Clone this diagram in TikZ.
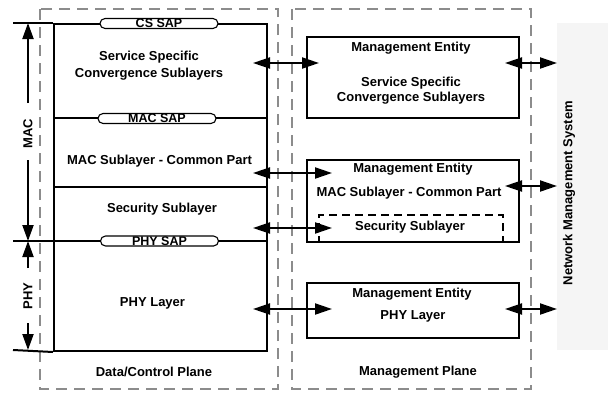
\documentclass[tikz,border=0pt]{standalone}
\usepackage{fontspec}
\setmainfont{Liberation Sans}
\usetikzlibrary{arrows.meta}
\begin{document}
\begin{tikzpicture}[x=1pt,y=-1pt,
  lbl/.style={font=\fontsize{13}{16.5}\selectfont\bfseries, inner sep=0pt, align=center},
  plane/.style={draw=gray!90, line width=1.5pt, dash pattern=on 11pt off 7pt},
  blk/.style={draw=black, line width=2pt},
  pill/.style={draw=black, line width=1.1pt, fill=white, rounded corners=5pt, minimum width=118pt, minimum height=10pt, inner sep=0pt, font=\fontsize{12.5}{14}\selectfont\bfseries},
  dbl/.style={line width=2pt, {Triangle[length=17pt,width=11pt]}-{Triangle[length=17pt,width=11pt]}},
  sgl/.style={line width=2pt, -{Triangle[length=16pt,width=11pt]}}
]
\useasboundingbox (0,0) rectangle (608,392);
% planes
\draw[plane] (40,9) rectangle (278,389);
\draw[plane] (292,9) rectangle (531,389);
% network management system
\node[fill=gray!8, minimum width=51pt, minimum height=327pt, anchor=north west, inner sep=0pt] (nms) at (557,23) {};
\node[lbl, rotate=90] (nmst) at (569,193) {Network Management System};
% data/control stack
\node[blk, minimum width=213pt, minimum height=327pt, anchor=north west, inner sep=0pt] (stack) at (53,23) {};
\coordinate (tl) at (13,23);
\coordinate (bl) at (13,350);
\coordinate (pl) at (13,241);
\coordinate (pr) at (266,241);
\coordinate (ml) at (53,118);
\coordinate (mr) at (266,118);
\coordinate (sl) at (53,187);
\coordinate (sr) at (266,187);
\draw[blk] (tl) -- (stack.north west);
\draw[blk] (bl) -- (stack.south west);
\draw[blk] (pl) -- (pr);
\draw[blk] (ml) -- (mr);
\draw[blk] (sl) -- (sr);
\node[pill] (cssap) at (159,23.5) {CS SAP};
\node[pill] (macsap) at (157,118.5) {MAC SAP};
\node[pill] (physap) at (159.5,241) {PHY SAP};
\node[lbl] (sscs) at (149,65.5) {Service Specific\\Convergence Sublayers};
\node[lbl] (cps) at (159.5,161) {MAC Sublayer - Common Part};
\node[lbl] (sec) at (162,209) {Security Sublayer};
\node[lbl] (phy) at (152.5,303) {PHY Layer};
\node[lbl] (dcp) at (154,372) {Data/Control Plane};
% MAC / PHY brackets
\node[lbl, rotate=90] (mac) at (28,134) {MAC};
\node[lbl, rotate=90] (phyl) at (28,296) {PHY};
\coordinate (a1) at (28,103);
\coordinate (a2) at (28,160);
\coordinate (a3) at (28,268);
\coordinate (a4) at (28,323);
\coordinate (t1) at (28,23);
\coordinate (t2) at (28,241);
\coordinate (t3) at (28,350);
\draw[sgl] (a1) -- (t1);
\draw[sgl] (a2) -- (t2);
\draw[sgl] (a3) -- (t2);
\draw[sgl] (a4) -- (t3);
% management entities
\node[blk, minimum width=212pt, minimum height=81pt, anchor=north west, inner sep=0pt] (me1) at (306,36) {};
\node[blk, minimum width=212pt, minimum height=82pt, anchor=north west, inner sep=0pt] (me2) at (306,159) {};
\node[blk, minimum width=212pt, minimum height=55pt, anchor=north west, inner sep=0pt] (me3) at (306,282) {};
\node[draw=black, line width=1.5pt, dash pattern=on 8pt off 5pt, minimum width=184pt, minimum height=27pt, anchor=north west, inner sep=0pt] (secbox) at (318,214) {};
\node[lbl] (me1a) at (411,48) {Management Entity};
\node[lbl] (me1b) at (411,90.5) {Service Specific\\[-2pt]Convergence Sublayers};
\node[lbl] (me2a) at (413,169) {Management Entity};
\node[lbl] (me2b) at (409,193) {MAC Sublayer - Common Part};
\node[lbl] (me2c) at (410,227) {Security Sublayer};
\node[lbl] (me3a) at (412,294) {Management Entity};
\node[lbl] (me3b) at (413,316) {PHY Layer};
\node[lbl] (mp) at (418,372) {Management Plane};
% arrows between planes
\coordinate (l1) at (253,63);  \coordinate (r1) at (319,63);
\coordinate (l2) at (253,173); \coordinate (r2) at (332,173);
\coordinate (l3) at (253,228); \coordinate (r3) at (332,228);
\coordinate (l4) at (253,309); \coordinate (r4) at (332,309);
\draw[dbl] (l1) -- (r1);
\draw[dbl] (l2) -- (r2);
\draw[dbl] (l3) -- (r3);
\draw[dbl] (l4) -- (r4);
% arrows to NMS
\coordinate (n1) at (505,63);  \coordinate (m1) at (557,63);
\coordinate (n2) at (505,186); \coordinate (m2) at (557,186);
\coordinate (n3) at (505,309); \coordinate (m3) at (557,309);
\draw[dbl] (n1) -- (m1);
\draw[dbl] (n2) -- (m2);
\draw[dbl] (n3) -- (m3);
\end{tikzpicture}
\end{document}
